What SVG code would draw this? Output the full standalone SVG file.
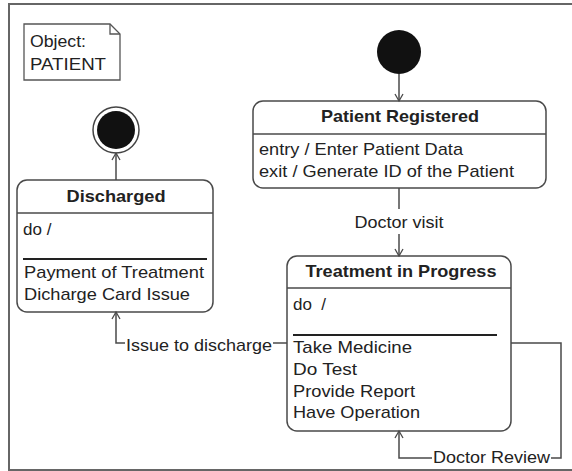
<svg xmlns="http://www.w3.org/2000/svg" width="572" height="471" viewBox="0 0 572 471">
<style>
  text { font-family: "Liberation Sans", Arial, sans-serif; font-size: 17px; fill: #222; }
  .title { font-weight: bold; text-anchor: middle; }
  .box { fill: #fff; stroke: #4a4a4a; stroke-width: 1.5; }
  .div { stroke: #4a4a4a; stroke-width: 1.5; }
  .bar { stroke: #222; stroke-width: 2; }
  .conn { fill: none; stroke: #4a4a4a; stroke-width: 1.5; }
  .frame { fill: none; stroke: #666; stroke-width: 2; }
</style>
<defs>
  <marker id="arr" markerWidth="12" markerHeight="12" refX="10" refY="6" orient="auto" markerUnits="userSpaceOnUse">
    <path d="M3,2 L10,6 L3,10" fill="none" stroke="#4a4a4a" stroke-width="1.3"/>
  </marker>
</defs>
<rect width="572" height="471" fill="#fff"/>
<path class="frame" d="M572,4 H9 V470 H572"/>

<g id="note">
  <polygon points="24,24 110,24 120,34 120,80 24,80" fill="#fff" stroke="#555" stroke-width="1.3"/>
  <polyline points="110,24 110,34 120,34" fill="none" stroke="#555" stroke-width="1.3"/>
  <text x="30" y="47" textLength="56" lengthAdjust="spacingAndGlyphs">Object:</text>
  <text x="30" y="70" textLength="76" lengthAdjust="spacingAndGlyphs">PATIENT</text>
</g>

<g id="initial">
  <circle cx="399" cy="52" r="22" fill="#111"/>
</g>

<g id="final">
  <circle cx="116" cy="130" r="23" fill="#fff" stroke="#444" stroke-width="1.5"/>
  <circle cx="116" cy="130" r="19" fill="#111"/>
</g>

<g id="patient-registered">
  <rect class="box" x="253" y="101" width="293" height="87" rx="10"/>
  <line class="div" x1="253" y1="134" x2="546" y2="134"/>
  <text class="title" x="400" y="122" textLength="158" lengthAdjust="spacingAndGlyphs">Patient Registered</text>
  <text x="259" y="155" textLength="204" lengthAdjust="spacingAndGlyphs">entry / Enter Patient Data</text>
  <text x="259" y="177" textLength="255" lengthAdjust="spacingAndGlyphs">exit / Generate ID of the Patient</text>
</g>

<g id="discharged">
  <rect class="box" x="17" y="180" width="196" height="132" rx="10"/>
  <line class="div" x1="17" y1="213" x2="213" y2="213"/>
  <text class="title" x="116" y="202" textLength="99" lengthAdjust="spacingAndGlyphs">Discharged</text>
  <text x="23" y="235">do /</text>
  <line class="bar" x1="23" y1="259" x2="207" y2="259"/>
  <text x="24" y="278" textLength="180" lengthAdjust="spacingAndGlyphs">Payment of Treatment</text>
  <text x="24" y="300" textLength="166" lengthAdjust="spacingAndGlyphs">Dicharge Card Issue</text>
</g>

<g id="treatment">
  <rect class="box" x="287" y="256" width="224" height="175" rx="10"/>
  <line class="div" x1="287" y1="288" x2="511" y2="288"/>
  <text class="title" x="401" y="277" textLength="191" lengthAdjust="spacingAndGlyphs">Treatment in Progress</text>
  <text x="293" y="310" xml:space="preserve">do  /</text>
  <line class="bar" x1="293" y1="335" x2="497" y2="335"/>
  <text x="293" y="353" textLength="119" lengthAdjust="spacingAndGlyphs">Take Medicine</text>
  <text x="293" y="375" textLength="64" lengthAdjust="spacingAndGlyphs">Do Test</text>
  <text x="293" y="397" textLength="122" lengthAdjust="spacingAndGlyphs">Provide Report</text>
  <text x="293" y="418" textLength="127" lengthAdjust="spacingAndGlyphs">Have Operation</text>
</g>

<g id="connectors">
  <line class="conn" x1="399" y1="74" x2="399" y2="101" marker-end="url(#arr)"/>
  <line class="conn" x1="399" y1="188" x2="399" y2="209"/>
  <text x="399" y="228" text-anchor="middle" textLength="89" lengthAdjust="spacingAndGlyphs">Doctor visit</text>
  <line class="conn" x1="399" y1="234" x2="399" y2="256" marker-end="url(#arr)"/>
  <line class="conn" x1="116" y1="180" x2="116" y2="153" marker-end="url(#arr)"/>
  <polyline class="conn" points="287,343 273,343"/>
  <text x="126" y="351" textLength="146" lengthAdjust="spacingAndGlyphs">Issue to discharge</text>
  <polyline class="conn" points="125,343 116,343 116,312" marker-end="url(#arr)"/>
  <polyline class="conn" points="511,343 561,343 561,458 551,458"/>
  <text x="433" y="463" textLength="117" lengthAdjust="spacingAndGlyphs">Doctor Review</text>
  <polyline class="conn" points="432,458 399,458 399,431" marker-end="url(#arr)"/>
</g>
</svg>
